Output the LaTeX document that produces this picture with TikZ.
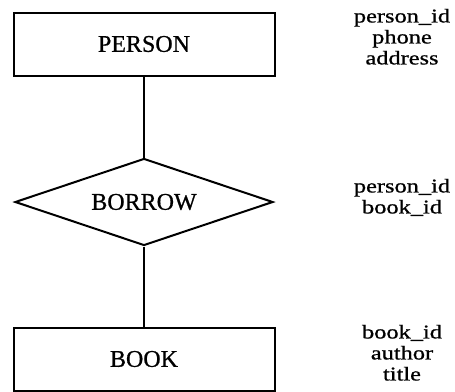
\documentclass[tikz,border=0pt]{standalone}
\usepackage{fontspec}
\setmainfont{Liberation Serif}[FakeBold=0.8]
\newfontfamily\attrfont[FakeStretch=1.25,FakeBold=0.8]{Liberation Serif}
\usetikzlibrary{shapes.geometric}

\begin{document}
\begin{tikzpicture}[
  x=1pt, y=1pt,
  ent/.style={draw=black, line width=2pt, rectangle, inner sep=0pt,
    minimum width=261pt, minimum height=63pt,
    font=\fontsize{24}{28}\selectfont},
  rel/.style={draw=black, line width=2pt, diamond, aspect=3, inner sep=0pt,
    minimum width=258pt, minimum height=87pt,
    font=\fontsize{24}{28}\selectfont},
  attr/.style={anchor=north, align=center, inner sep=0pt,
    font=\attrfont\fontsize{19.5}{21}\selectfont},
  lnk/.style={line width=2pt},
]
\useasboundingbox (0,0) rectangle (455,-391);
% entities and relationship
\node[ent] (person) at (144,-44) {PERSON};
\node[rel] (borrow) at (144,-202) {BORROW};
\node[ent] (book) at (144,-359) {BOOK};
\draw[lnk] (person) -- (borrow);
\draw[lnk] (borrow) -- (book);
% attributes
\node[attr] (attrperson) at (402,-8.7) {person\_id\\phone\\address};
\node[attr] (attrborrow) at (402,-178.7) {person\_id\\book\_id};
\node[attr] (attrbook) at (402,-324.7) {book\_id\\author\\title};
\end{tikzpicture}
\end{document}
